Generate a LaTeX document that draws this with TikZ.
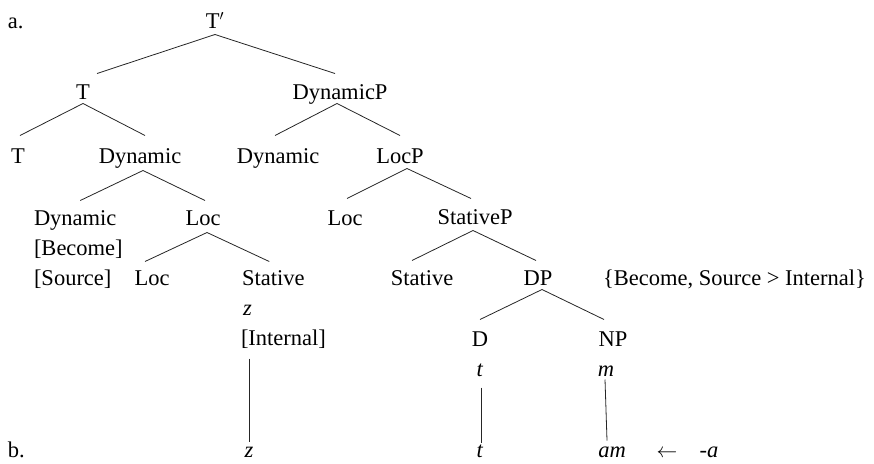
\documentclass[tikz,border=0pt]{standalone}
\usepackage{fontspec}
\setmainfont{Liberation Serif}
\begin{document}
\begin{tikzpicture}[x=1pt,y=-1pt,
  lbl/.style={inner sep=0pt,outer sep=0pt,text height=0pt,text depth=0pt,anchor=base,font=\fontsize{22.5}{27}\selectfont},
  lblw/.style={lbl,anchor=base west},
  edge/.style={draw=black!85,line width=0.8pt}]
\useasboundingbox (0,0) rectangle (874,463);
% labels
\node[lblw] (a) at (8,28) {a.};
\node[lblw] (b) at (8,457) {b.};
% tree nodes
\node[lbl] (Tbar) at (215,28) {T$'$};
\node[lbl] (T1) at (83,99) {T};
\node[lbl] (DynP) at (340,99) {DynamicP};
\node[lbl] (T2) at (18,163) {T};
\node[lbl] (Dyn1) at (140,163) {Dynamic};
\node[lbl] (Dyn2) at (278,163) {Dynamic};
\node[lbl] (LocP) at (400,163) {LocP};
\node[lblw] (Dyn3) at (34,225) {Dynamic};
\node[lbl] (Loc1) at (203,225) {Loc};
\node[lbl] (Loc2) at (345,225) {Loc};
\node[lbl] (StP) at (475,224) {StativeP};
\node[lblw] (Become) at (34,255) {[Become]};
\node[lblw] (Source) at (34,285) {[Source]};
\node[lbl] (Loc3) at (152,285) {Loc};
\node[lblw] (St1) at (242,285) {Stative};
\node[lbl] (St2) at (422,285) {Stative};
\node[lbl] (DP) at (538,285) {DP};
\node[lblw] (Feat) at (603,285) {\{Become, Source > Internal\}};
\node[lblw] (zup) at (243,315) {\textit{z}};
\node[lblw] (Int) at (241,345) {[Internal]};
\node[lbl] (D) at (480,346) {D};
\node[lbl] (NP) at (613,346) {NP};
\node[lbl] (tup) at (480,376) {\textit{t}};
\node[lbl] (mup) at (606,376) {\textit{m}};
\node[lbl] (zlow) at (249,457) {\textit{z}};
\node[lbl] (tlow) at (480,457) {\textit{t}};
\node[lbl] (am) at (612,457) {\textit{am}};
\node[lbl] (arr) at (667,457) {$\leftarrow$};
\node[lbl] (suf) at (709,457) {\textit{-a}};
% edges
\draw[edge] ([yshift=-6pt]Tbar.south) -- ([xshift=14pt,yshift=25pt]T1.north);
\draw[edge] ([yshift=-6pt]Tbar.south) -- ([xshift=-5pt,yshift=25pt]DynP.north);
\draw[edge] ([yshift=-4pt]T1.south) -- ([xshift=2pt,yshift=27pt]T2.north);
\draw[edge] ([yshift=-4pt]T1.south) -- ([xshift=5pt,yshift=27pt]Dyn1.north);
\draw[edge] ([xshift=-3pt,yshift=-4pt]DynP.south) -- ([xshift=-3pt,yshift=27pt]Dyn2.north);
\draw[edge] ([xshift=-3pt,yshift=-4pt]DynP.south) -- ([yshift=27pt]LocP.north);
\draw[edge] ([xshift=3pt,yshift=-7pt]Dyn1.south) -- ([xshift=5pt,yshift=24pt]Dyn3.north);
\draw[edge] ([xshift=3pt,yshift=-7pt]Dyn1.south) -- ([xshift=2pt,yshift=24pt]Loc1.north);
\draw[edge] ([xshift=7pt,yshift=-5pt]LocP.south) -- ([xshift=2pt,yshift=26pt]Loc2.north);
\draw[edge] ([xshift=7pt,yshift=-5pt]LocP.south) -- ([xshift=-4pt,yshift=25pt]StP.north);
\draw[edge] ([xshift=4pt,yshift=-7pt]Loc1.south) -- ([xshift=-7pt,yshift=23pt]Loc3.north);
\draw[edge] ([xshift=4pt,yshift=-7pt]Loc1.south) -- ([xshift=-4pt,yshift=23pt]St1.north);
\draw[edge] ([xshift=-2pt,yshift=-6pt]StP.south) -- ([xshift=-10pt,yshift=24pt]St2.north);
\draw[edge] ([xshift=-2pt,yshift=-6pt]StP.south) -- ([xshift=-2pt,yshift=24pt]DP.north);
\draw[edge] ([xshift=4pt,yshift=-4pt]DP.south) -- ([yshift=26pt]D.north);
\draw[edge] ([xshift=4pt,yshift=-4pt]DP.south) -- ([xshift=-9pt,yshift=26pt]NP.north);
% vertical lines
\draw[edge] ([yshift=-13pt]zlow |- Int.south) -- ([yshift=15pt]zlow.north);
\draw[edge] ([xshift=1pt,yshift=-11pt]tup.south) -- ([xshift=1pt,yshift=14pt]tlow.north);
\draw[edge] ([xshift=-1pt,yshift=-3pt]mup.south) -- ([xshift=-5pt,yshift=16pt]am.north);
\end{tikzpicture}
\end{document}
